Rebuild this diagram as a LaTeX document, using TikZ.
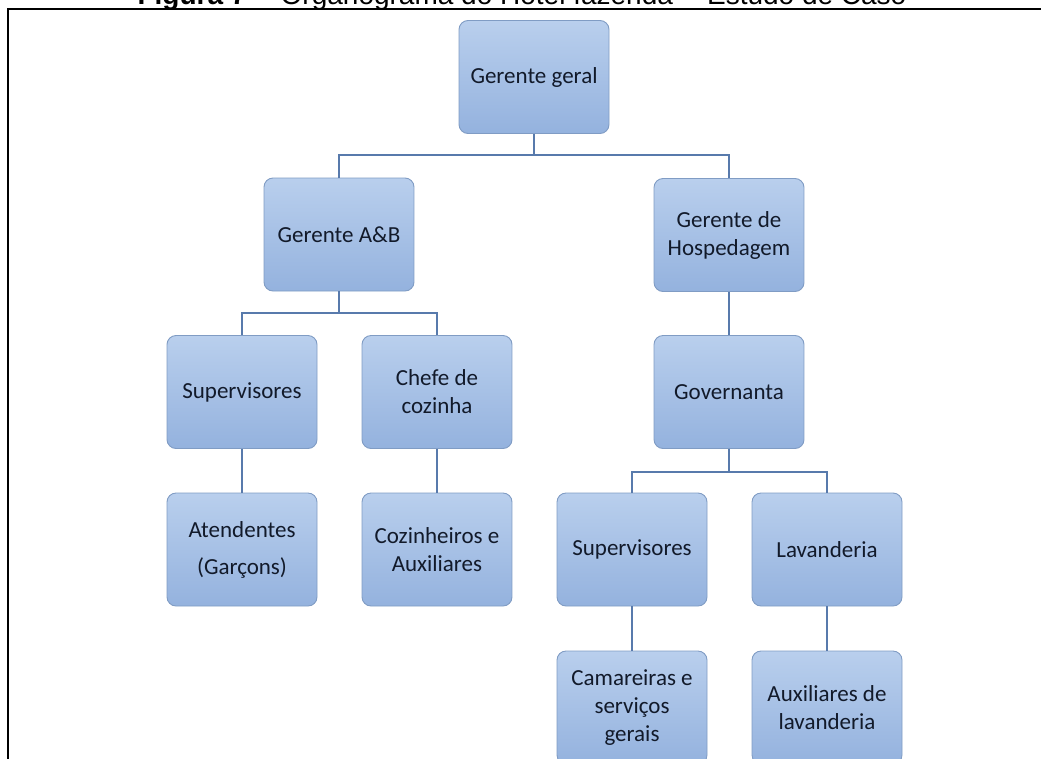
\documentclass[tikz,border=0pt]{standalone}
\usepackage{fontspec}
\newfontfamily\boxfont{Carlito}
\newfontfamily\titlefont{Liberation Sans}
\definecolor{boxtop}{RGB}{185,207,237}
\definecolor{boxbot}{RGB}{148,178,222}
\definecolor{boxedge}{RGB}{128,156,196}
\definecolor{linkcol}{RGB}{88,122,172}
\definecolor{boxtext}{RGB}{18,26,42}
\tikzset{
  orgbox/.style={rounded corners=9pt, draw=boxedge, line width=0.9pt,
    top color=boxtop, bottom color=boxbot,
    minimum width=150pt, minimum height=113pt, inner sep=0pt,
    align=center, text=boxtext, font=\boxfont\fontsize{23}{28}\selectfont},
  link/.style={draw=linkcol, line width=1.2pt},
  frameline/.style={draw=black, line width=2.6pt}
}
\begin{document}
\begin{tikzpicture}[x=1pt, y=-1pt]
\useasboundingbox (0,0) rectangle (1041,758);
\clip (0,0) rectangle (1041,758);

% caption, cut at the top edge
\node[anchor=base, inner sep=0pt, font=\titlefont\fontsize{28}{32}\selectfont]
  (title) at (522,4) {\textbf{Figura 7} -- Organograma do Hotel fazenda -- Estudo de Caso};

% frame
\draw[frameline] (1045,9) -- (8,9) -- (8,762);

% boxes
\node[orgbox] (gg)   at (534,77)    {Gerente geral};
\node[orgbox] (ab)   at (339,234.5) {Gerente A\&B};
\node[orgbox] (hosp) at (729,235)   {Gerente de\\Hospedagem};
\node[orgbox] (sup1) at (242,392)   {Supervisores};
\node[orgbox] (chef) at (437,392)   {Chefe de\\cozinha};
\node[orgbox] (gov)  at (729,392)   {Governanta};
\node[orgbox] (at)   at (242,549.5) {Atendentes\\[9pt](Garçons)};
\node[orgbox] (coz)  at (437,549.5) {Cozinheiros e\\Auxiliares};
\node[orgbox] (sup2) at (632,549.5) {Supervisores};
\node[orgbox] (lav)  at (827,549.5) {Lavanderia};
\node[orgbox] (cam)  at (632,707.5) {Camareiras e\\serviços\\gerais};
\node[orgbox] (aux)  at (827,707.5) {Auxiliares de\\lavanderia};

% bus points
\coordinate (b1) at (534,155);
\coordinate (b2) at (339,313);
\coordinate (b3) at (729,472);

% connectors
\draw[link] (gg.south) -- (b1);
\draw[link] (b1) -| (ab.north);
\draw[link] (b1) -| (hosp.north);
\draw[link] (ab.south) -- (b2);
\draw[link] (b2) -| (sup1.north);
\draw[link] (b2) -| (chef.north);
\draw[link] (hosp.south) -- (gov.north);
\draw[link] (gov.south) -- (b3);
\draw[link] (b3) -| (sup2.north);
\draw[link] (b3) -| (lav.north);
\draw[link] (sup1.south) -- (at.north);
\draw[link] (chef.south) -- (coz.north);
\draw[link] (sup2.south) -- (cam.north);
\draw[link] (lav.south) -- (aux.north);
\end{tikzpicture}
\end{document}
